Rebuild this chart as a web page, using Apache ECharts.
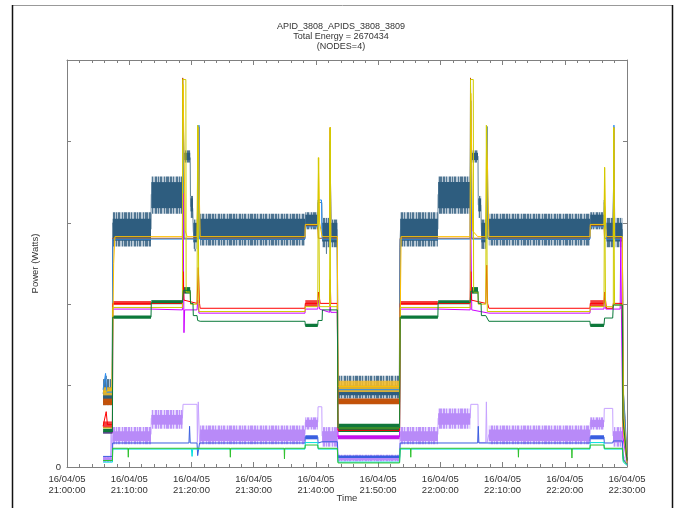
<!DOCTYPE html>
<html><head><meta charset="utf-8">
<script src="https://cdn.jsdelivr.net/npm/echarts@6/dist/echarts.min.js"></script>
<style>html,body{margin:0;padding:0;background:#fff;overflow:hidden}#c{width:682px;height:508px}</style>
</head><body><div id="c"></div>
<script>
// ---- DATA (time in minutes after 21:00:00 on 16/04/05, power in arbitrary Watts units) ----
const titleLines = ['APID_3808_APIDS_3808_3809', 'Total Energy = 2670434', '(NODES=4)'];
const dateLabel = '16/04/05';
const xTicks = [0, 10, 20, 30, 40, 50, 60, 70, 80, 90];
const yTicks = [0, 100, 200, 300, 400, 500];

// band segments: [t0, t1, outerLo, innerLo, innerHi, outerHi]
const slateBand = [
 [5.8,7.3,76,82,98,108],[7.35,13.5,271,278,305,313],[13.55,18.55,311,318,350,357],
 [18.8,19.8,374,377,386,389],[19.85,20.25,306,314,330,333],[20.3,20.9,268,276,300,304],
 [21.4,38.25,272,279,305,311],[38.3,40.3,292,296,310,313],[41.0,42.2,270,277,300,306],
 [42.45,43.45,270,276,300,304],[43.55,53.45,84,88,100,112],[53.55,59.6,271,278,305,313],
 [59.65,64.8,311,318,350,357],[64.95,66.05,374,377,386,389],[66.1,66.55,306,314,330,333],
 [66.6,67.3,268,276,300,304],[67.8,84.05,272,279,305,311],[84.1,86.3,292,296,310,313],
 [86.7,87.75,270,277,300,306],[88.1,89.25,270,277,300,306]
];
const purpleBand = [
 [5.8,7.3,6,7,12,13],[7.35,13.5,28,32,44,49],[13.55,18.55,47,52,64,70],[21.4,38.25,28,32,46,51],
 [38.3,40.3,46,49,58,61],[41.0,43.45,25,30,44,49],[43.55,53.45,7,8,13,15],[53.55,59.6,28,32,44,49],
 [59.65,64.8,47,52,66,72],[67.8,84.05,28,32,46,51],[84.1,86.3,46,49,58,61],[87.75,89.25,25,30,44,49]
];
// simple bands: [t0, t1, lo, hi]
const orangeBand = [[5.8,7.3,88,98],[43.55,53.45,92,106]];
const dkorangeBand = [[5.8,7.3,76,84],[43.55,53.45,77,84]];
const redBand = [[5.8,7.3,48,56],[7.35,13.5,199,204],[38.3,40.3,197,205],[84.1,86.3,197,205],[53.55,59.6,199,204]];
const yellowBand = [[43.55,53.45,45,51]];
const magentaBand = [[43.55,53.45,34,39]];
const greenBand = [[5.8,7.3,41,47],[7.35,13.5,182,186],[13.55,18.55,200,205],[18.7,19.8,213,221],[38.3,40.3,172,176],
 [43.55,53.45,43,53],[53.55,59.6,182,186],[59.65,64.8,200,205],[64.9,66.05,213,221],[84.1,86.3,172,176]];
const blueBand = [[38.3,40.3,34,39],[84.1,86.3,34,39],[43.55,53.45,11,14]];

// line paths: [t, value]
const slateLine = [[5.8,90],[6.3,112],[6.5,85],[7.2,92],[7.3,180],[7.35,300],[7.5,292],[13.5,292],[13.55,335],[18.55,335],[18.65,445],[18.8,380],[19.8,380],[19.85,320],[20.2,318],[20.3,290],[20.6,265],[20.9,290],[21.1,355],[21.3,300],[21.5,292],[38.25,292],[38.3,303],[40.3,303],[40.35,325],[40.95,325],[41.0,292],[41.6,292],[41.7,262],[41.8,292],[42.2,292],[42.3,378],[42.45,292],[43.4,292],[43.5,110],[43.6,93],[53.4,93],[53.5,270],[53.6,292],[59.6,292],[59.65,335],[64.8,335],[64.9,450],[65.0,382],[66.05,382],[66.1,322],[66.5,322],[66.6,290],[67.0,268],[67.3,290],[67.5,355],[67.7,300],[67.8,292],[84.05,292],[84.1,303],[86.3,303],[86.35,325],[86.65,325],[86.7,292],[87.7,292],[87.9,368],[88.05,292],[89.25,292],[89.35,98],[89.7,60],[90,8]];
const orangeLine = [[5.8,92],[7.2,95],[7.3,140],[7.5,250],[7.7,283],[18.55,283],[18.65,470],[18.95,470],[19.0,290],[19.3,283],[20.9,283],[21.05,418],[21.3,418],[21.4,283],[38.25,283],[38.3,298],[40.3,298],[40.45,380],[40.6,300],[41.0,283],[42.2,283],[42.3,417],[42.4,283],[43.45,283],[43.55,99],[53.45,99],[53.5,150],[53.7,283],[64.8,283],[64.9,459],[65.1,459],[65.2,290],[66.0,283],[67.3,283],[67.45,418],[67.65,418],[67.8,283],[84.05,283],[84.1,298],[86.3,298],[86.4,368],[86.55,300],[86.7,283],[87.8,283],[87.9,417],[88.0,283],[89.25,283],[89.35,150],[89.5,60],[90,12]];
const dkorangeLine = [[5.8,80],[7.3,80],[7.35,281],[18.55,281],[18.6,478],[18.75,478],[18.8,281],[21.1,281],[21.2,418],[21.3,281],[38.25,281],[38.3,296],[40.3,296],[40.4,281],[42.2,281],[42.3,417],[42.4,281],[43.45,281],[43.55,80],[53.45,80],[53.55,281],[64.8,281],[64.85,478],[65.0,478],[65.05,281],[67.4,281],[67.5,418],[67.6,281],[84.05,281],[84.1,296],[86.3,296],[86.4,281],[87.8,281],[87.9,417],[88.0,281],[89.25,281],[89.4,80],[90,10]];
const ltblueLine = [[5.8,95],[6.2,115],[6.4,92],[7.3,92],[7.35,280],[18.55,280],[18.7,440],[18.8,280],[21.1,280],[21.2,420],[21.3,280],[38.25,280],[38.3,295],[40.3,295],[40.35,328],[40.9,328],[41.0,280],[42.2,280],[42.3,400],[42.4,280],[43.45,280],[43.55,95],[53.45,95],[53.55,280],[64.8,280],[64.85,466],[65.0,466],[65.05,280],[67.4,280],[67.55,418],[67.65,280],[84.05,280],[84.1,295],[86.3,295],[86.35,328],[86.65,328],[86.7,280],[87.8,280],[87.9,420],[88.0,280],[89.25,280],[89.4,95],[90,10]];
const redLine = [[5.8,50],[6.3,68],[6.5,52],[7.3,52],[7.35,201],[13.5,201],[18.55,201],[18.65,240],[18.8,205],[20.9,201],[21.1,245],[21.3,201],[21.4,195],[38.25,195],[38.3,201],[40.3,201],[40.4,215],[40.6,215],[40.7,201],[42.2,201],[42.3,230],[42.4,201],[43.45,201],[43.55,45],[53.45,45],[53.55,201],[64.8,201],[64.9,240],[65.0,205],[67.3,201],[67.45,248],[67.6,201],[67.8,195],[84.05,195],[84.1,201],[86.3,201],[86.4,215],[86.6,215],[86.7,195],[87.7,195],[87.8,201],[89.25,201],[89.4,50],[90,8]];
const yellowLine = [[5.8,48],[7.3,48],[7.35,196],[18.55,196],[18.6,476],[19.1,476],[19.15,215],[19.8,215],[19.85,200],[20.9,200],[21.0,420],[21.15,420],[21.2,191],[38.25,191],[38.3,197],[40.3,197],[40.4,380],[40.55,380],[40.6,197],[42.2,197],[42.3,417],[42.35,197],[43.45,197],[43.55,48],[53.45,48],[53.55,196],[64.8,196],[64.85,476],[65.3,476],[65.35,215],[66.05,215],[66.1,200],[67.3,200],[67.4,420],[67.5,420],[67.55,191],[84.05,191],[84.1,197],[86.3,197],[86.4,368],[86.5,368],[86.55,197],[87.8,197],[87.85,417],[87.95,417],[88.0,199],[89.25,199],[89.35,50],[90,5]];
const magentaLine = [[5.8,42],[7.3,42],[7.35,194],[13.5,194],[13.55,193],[18.55,193],[18.65,336],[18.75,336],[18.8,165],[18.9,193],[20.9,193],[21.0,205],[21.2,189],[38.25,189],[38.3,194],[40.3,194],[40.4,205],[40.6,194],[42.2,190],[42.3,200],[42.4,190],[43.45,190],[43.55,37],[53.45,37],[53.55,194],[59.6,194],[64.8,193],[64.85,337],[65.0,337],[65.05,193],[67.8,189],[84.05,189],[84.1,194],[86.3,194],[86.4,208],[86.6,194],[88.9,194],[89.0,281],[89.1,194],[89.25,194],[89.35,37],[90,5]];
const greenLine = [[5.8,43],[7.3,43],[7.35,184],[13.5,184],[13.55,202],[18.55,202],[18.7,217],[19.8,217],[19.85,201],[20.25,201],[20.3,186],[20.9,186],[21.0,180],[21.4,179],[38.25,179],[38.3,174],[40.3,174],[40.35,180],[41.0,180],[41.05,193],[43.45,193],[43.55,48],[53.45,48],[53.55,184],[59.6,184],[59.65,202],[64.8,202],[64.9,216],[66.05,216],[66.1,201],[66.55,201],[66.6,186],[67.3,186],[67.8,179],[84.05,179],[84.1,174],[86.3,174],[86.4,183],[87.7,183],[87.8,199],[89.25,199],[89.35,60],[90,8]];
const purpleLine = [[5.8,10],[7.0,10],[7.1,50],[7.2,10],[7.3,12],[7.35,40],[13.5,40],[13.55,60],[18.55,60],[18.65,77],[20.9,77],[20.95,30],[21.1,80],[21.3,30],[21.4,40],[38.25,40],[38.3,55],[40.3,55],[40.35,74],[40.95,74],[41.0,38],[43.45,38],[43.55,11],[53.45,11],[53.55,40],[59.6,40],[59.65,60],[64.8,60],[64.9,77],[66.05,77],[66.1,30],[67.3,30],[67.4,80],[67.5,30],[67.8,40],[84.05,40],[84.1,55],[86.3,55],[86.35,72],[87.7,72],[87.75,38],[89.25,38],[89.4,15],[90,3]];
const blueLine = [[5.8,13],[7.3,13],[7.35,29.5],[19.6,29.5],[19.7,50],[19.8,29.5],[20.9,29.5],[21.0,14],[21.3,29.5],[38.25,29.5],[38.3,37],[40.3,37],[40.35,29.5],[41.0,31],[43.45,31],[43.55,12],[53.45,12],[53.55,29.5],[66.0,29.5],[66.1,50],[66.2,29.5],[84.05,29.5],[84.1,37],[86.3,37],[86.35,29.5],[87.7,29.5],[87.8,32],[89.25,32],[89.4,10],[90,3]];
const cyanLine = [[5.8,6],[7.3,6],[7.35,22],[20.0,22],[20.1,13],[20.2,22],[38.25,22],[38.3,30],[40.3,30],[40.35,22],[43.45,22],[43.55,6],[53.45,6],[53.55,22],[84.05,22],[84.1,30],[86.3,30],[86.35,22],[89.25,22],[89.4,6],[90,2]];
const brgreenLine = [[5.8,8],[7.3,8],[7.35,23],[9.8,23],[9.85,12],[9.9,23],[26.2,23],[26.25,12],[26.3,23],[34.9,23],[34.95,10],[35.0,23],[38.25,23],[38.3,27],[40.3,27],[40.35,23],[43.45,23],[43.55,5],[53.45,5],[53.55,23],[55.2,23],[55.25,12],[55.3,23],[72.5,23],[72.55,12],[72.6,23],[81.1,23],[81.15,11],[81.2,23],[84.05,23],[84.1,27],[86.3,27],[86.35,23],[89.25,23],[89.4,8],[90,3]];

// ---- CHART ----
const FONT = 'Liberation Sans, Arial, sans-serif';
// fixed vertical-stripe texture to suggest the dense sample noise at band edges (styling only)
const stripeMask = [1,0,1,1,0,1,0,0,1,1,0,1,0,1,1,0,0,1,0,1,1];
function stripePattern(on, off) {
  const cv = document.createElement('canvas');
  cv.width = stripeMask.length; cv.height = 4;
  const ctx = cv.getContext('2d');
  stripeMask.forEach(function (m, i) { ctx.fillStyle = m ? on : off; ctx.fillRect(i, 0, 1, 4); });
  return { image: cv, repeat: 'repeat' };
}
function band6(outer, inner) {
  return function (params, api) {
    const a = api.coord([api.value(0), api.value(5)]);
    const b = api.coord([api.value(1), api.value(2)]);
    const c = api.coord([api.value(0), api.value(4)]);
    const d = api.coord([api.value(1), api.value(3)]);
    return { type: 'group', children: [
      { type: 'rect', shape: { x: a[0], y: a[1], width: b[0] - a[0], height: b[1] - a[1] }, style: { fill: outer } },
      { type: 'rect', shape: { x: c[0], y: c[1], width: d[0] - c[0], height: d[1] - c[1] }, style: { fill: inner } }
    ]};
  };
}
function band4(fill) {
  return function (params, api) {
    const a = api.coord([api.value(0), api.value(3)]);
    const b = api.coord([api.value(1), api.value(2)]);
    return { type: 'rect', shape: { x: a[0], y: a[1], width: b[0] - a[0], height: Math.max(1, b[1] - a[1]) }, style: { fill: fill } };
  };
}
function bandSeries(data, render, z) {
  return { type: 'custom', data: data, renderItem: render, encode: { x: [0, 1], y: [2, 3] }, z: z, silent: true, animation: false };
}
function lineS(data, color, z, w) {
  return { type: 'line', data: data, showSymbol: false, symbol: 'none', lineStyle: { color: color, width: w || 1 }, z: z, silent: true, animation: false };
}

const series = [
  bandSeries(slateBand, band6(stripePattern('#4f7592', '#b9c9d6'), '#2e5d7f'), 3),
  lineS(slateLine, '#5d7f98', 2),
  bandSeries(purpleBand, band6(stripePattern('#bd94fb', '#e6d8ff'), '#b88af8'), 3),
  lineS(purpleLine, '#c7a3ff', 2),
  bandSeries(orangeBand, band4('rgba(248,190,40,0.85)'), 4),
  bandSeries(dkorangeBand, band4('#c0530e'), 4),
  bandSeries(redBand, band4('rgba(240,30,30,0.85)'), 4),
  bandSeries(yellowBand, band4('rgba(200,196,16,0.85)'), 5),
  bandSeries(magentaBand, band4('#c020e0'), 4),
  bandSeries(greenBand, band4('#10783c'), 5),
  bandSeries(blueBand, band4('#3a5fe0'), 4),
  lineS(dkorangeLine, '#c85000', 5),
  lineS(ltblueLine, '#2a8cf0', 6),
  lineS(orangeLine, '#ffc000', 7),
  lineS(magentaLine, '#cc00ff', 6),
  lineS(yellowLine, '#d0cc00', 7),
  lineS(redLine, '#ff0000', 6),
  lineS(greenLine, '#0a7a3a', 7),
  lineS(blueLine, '#3a5fe0', 6),
  lineS(cyanLine, '#00dede', 6),
  lineS(brgreenLine, '#2ec22e', 6)
];

const axisLineStyle = { color: '#808080', width: 1 };
function xAx(pos, labels) {
  return {
    type: 'value', position: pos, min: xTicks[0], max: xTicks[xTicks.length - 1], interval: 10,
    axisLine: { show: true, onZero: false, lineStyle: axisLineStyle },
    axisTick: { show: true, inside: true, length: 5, lineStyle: axisLineStyle },
    minorTick: { show: true, splitNumber: 5, length: 3, lineStyle: axisLineStyle },
    splitLine: { show: false },
    axisLabel: labels ? {
      show: true, color: '#333', fontFamily: FONT, fontSize: 9.5, lineHeight: 11, margin: 7,
      formatter: function (v) {
        const tot = 21 * 60 + v; const h = Math.floor(tot / 60); const m = tot % 60;
        return dateLabel + '\n' + String(h).padStart(2, '0') + ':' + String(m).padStart(2, '0') + ':00';
      }
    } : { show: false },
    name: labels ? 'Time' : '', nameLocation: 'middle', nameGap: 26, nameMoveOverlap: false,
    nameTextStyle: { color: '#333', fontFamily: FONT, fontSize: 9.5 }
  };
}
function yAx(pos, labels) {
  return {
    type: 'value', position: pos, min: yTicks[0], max: yTicks[yTicks.length - 1], interval: 100,
    axisLine: { show: true, onZero: false, lineStyle: axisLineStyle },
    axisTick: { show: true, inside: true, length: 4, lineStyle: axisLineStyle },
    splitLine: { show: false },
    axisLabel: labels ? { show: true, color: '#333', fontFamily: FONT, fontSize: 9.5, margin: 6,
      formatter: function (v) { return v === 0 ? '0' : ''; } } : { show: false },
    name: labels ? 'Power (Watts)' : '', nameLocation: 'middle', nameGap: 27, nameRotate: 90, nameMoveOverlap: false,
    nameTextStyle: { color: '#333', fontFamily: FONT, fontSize: 9.5 }
  };
}

const chart = echarts.init(document.getElementById('c'), null, { renderer: 'canvas', width: 682, height: 508 });
chart.setOption({
  backgroundColor: '#fff',
  animation: false,
  title: {
    text: titleLines.join('\n'), left: 'center', top: 17,
    textStyle: { color: '#333', fontFamily: FONT, fontSize: 9, fontWeight: 'normal', lineHeight: 10 }
  },
  grid: { left: 67, width: 560, top: 60, height: 407, containLabel: false, outerBoundsMode: 'none' },
  xAxis: [xAx('bottom', true), xAx('top', false)],
  yAxis: [yAx('left', true), yAx('right', false)],
  series: series.map(function (s) { return Object.assign(s, { xAxisIndex: 0, yAxisIndex: 0 }); }),
  graphic: [
    { type: 'line', shape: { x1: 12, y1: 5.5, x2: 673, y2: 5.5 }, style: { stroke: '#999', lineWidth: 1 } },
    { type: 'line', shape: { x1: 12.5, y1: 5, x2: 12.5, y2: 508 }, style: { stroke: '#111', lineWidth: 1.5 } },
    { type: 'line', shape: { x1: 672.5, y1: 5, x2: 672.5, y2: 508 }, style: { stroke: '#111', lineWidth: 1.5 } }
  ]
});
</script>
</body></html>
